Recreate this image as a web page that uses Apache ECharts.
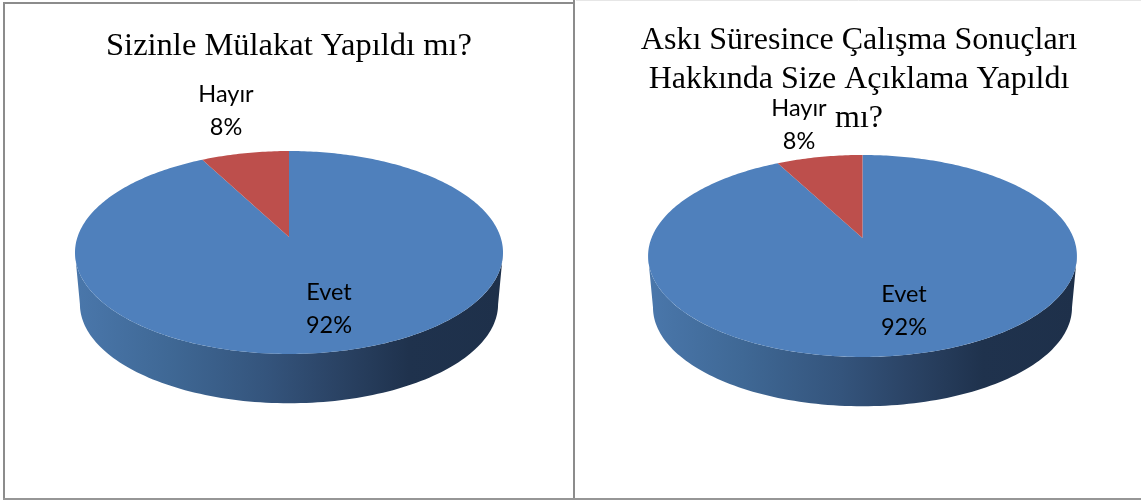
<!DOCTYPE html>
<html>
<head>
<meta charset="utf-8">
<style>html,body{margin:0;padding:0;background:#fff}#c{width:1141px;height:501px}</style>
<script src="https://cdn.jsdelivr.net/npm/echarts@6/dist/echarts.min.js"></script>
</head>
<body>
<div id="c"></div>
<script>
const categories = ['Evet', 'Hayır'];
const leftValues = [92.3, 7.7];
const rightValues = [92.3, 7.7];
const leftTitle = 'Sizinle Mülakat Yapıldı mı?';
const rightTitle = 'Askı Süresince Çalışma Sonuçları\nHakkında Size Açıklama Yapıldı\nmı?';
const sliceColors = ['#4f80bc', '#bd4f4c'];

// Perspective layout of each pie (apex, half-axes, foreshortening, wall)
const leftLayout = {
  cx: 289, cy: 237, A: 211.5, B: 99.1, k: 0.1527,
  wallDy: 52, wallScale: 0.977,
  labels: [{ x: 329, y: 309 }, { x: 226, y: 111 }]
};
const rightLayout = {
  cx: 862.5, cy: 238, A: 211, B: 97.8, k: 0.178,
  wallDy: 52, wallScale: 0.977,
  labels: [{ x: 904, y: 311 }, { x: 799, y: 125 }]
};

function pieRenderer(values, layout) {
  const total = values.reduce((a, b) => a + b, 0);
  const project = (t, s, dy) => {
    const w = 1 + layout.k * Math.cos(t);
    return [
      layout.cx + s * layout.A * Math.sin(t) / w,
      layout.cy + dy - s * layout.B * Math.cos(t) / w
    ];
  };
  const sideAngle = Math.acos(-layout.k);
  const wallGrad = new echarts.graphic.LinearGradient(0, 0, 1, 0, [
    { offset: 0, color: '#4a77ab' },
    { offset: 0.22, color: '#3f6895' },
    { offset: 0.45, color: '#34547c' },
    { offset: 0.6, color: '#2b4466' },
    { offset: 0.78, color: '#1f324d' },
    { offset: 1, color: '#1e304a' }
  ]);
  return function (params, api) {
    const i = params.dataIndex;
    const before = values.slice(0, i).reduce((a, b) => a + b, 0);
    const v = api.value(1);
    const t0 = before / total * 2 * Math.PI;
    const t1 = (before + v) / total * 2 * Math.PI;
    const children = [];

    // front wall: the part of the slice that faces the viewer
    const a0 = Math.max(t0, sideAngle);
    const a1 = Math.min(t1, 2 * Math.PI - sideAngle);
    if (a1 > a0) {
      const pts = [];
      const n = 120;
      for (let j = 0; j <= n; j++) pts.push(project(a0 + (a1 - a0) * j / n, 1, 0));
      for (let j = n; j >= 0; j--) pts.push(project(a0 + (a1 - a0) * j / n, layout.wallScale, layout.wallDy));
      children.push({ type: 'polygon', shape: { points: pts }, style: { fill: wallGrad } });
    }

    // top face
    const top = [[layout.cx, layout.cy]];
    const steps = Math.max(8, Math.ceil((t1 - t0) * 60));
    for (let j = 0; j <= steps; j++) top.push(project(t0 + (t1 - t0) * j / steps, 1, 0));
    children.push({ type: 'polygon', shape: { points: top }, style: { fill: sliceColors[i] } });

    const pos = layout.labels[i];
    children.push({
      type: 'text', x: pos.x, y: pos.y, z2: 10,
      style: {
        text: categories[i] + '\n' + Math.round(v / total * 100) + '%',
        fill: '#000', font: '23.5px Lato', lineHeight: 33,
        align: 'center', verticalAlign: 'middle'
      }
    });
    return { type: 'group', children };
  };
}

const toData = values => categories.map((c, i) => ({ name: c, value: [i, values[i]] }));
const frame = { stroke: '#8c8c8c', lineWidth: 2 };
const line = (x1, y1, x2, y2, style) => ({
  type: 'line', silent: true, shape: { x1, y1, x2, y2 }, style: style || frame
});

const chart = echarts.init(document.getElementById('c'), null, { renderer: 'canvas' });
chart.setOption({
  animation: false,
  backgroundColor: '#fff',
  title: [
    { text: leftTitle, left: 284, top: 20, textAlign: 'center',
      textStyle: { fontFamily: 'Liberation Serif', fontSize: 32.5, fontWeight: 'normal', color: '#000', lineHeight: 42 } },
    { text: rightTitle, left: 854, top: 16, textAlign: 'center',
      textStyle: { fontFamily: 'Liberation Serif', fontSize: 32, fontWeight: 'normal', color: '#000', lineHeight: 39 } }
  ],
  graphic: [
    line(3, 3, 575, 3),
    line(4, 2, 4, 500),
    line(574, 0, 574, 499),
    line(3, 499, 1141, 499, { stroke: '#969696', lineWidth: 2 }),
    line(576, 0.5, 1141, 0.5, { stroke: '#e6e6e6', lineWidth: 1 })
  ],
  series: [
    { type: 'custom', coordinateSystem: 'none', silent: true, data: toData(leftValues), renderItem: pieRenderer(leftValues, leftLayout) },
    { type: 'custom', coordinateSystem: 'none', silent: true, data: toData(rightValues), renderItem: pieRenderer(rightValues, rightLayout) }
  ]
});
</script>
</body>
</html>
